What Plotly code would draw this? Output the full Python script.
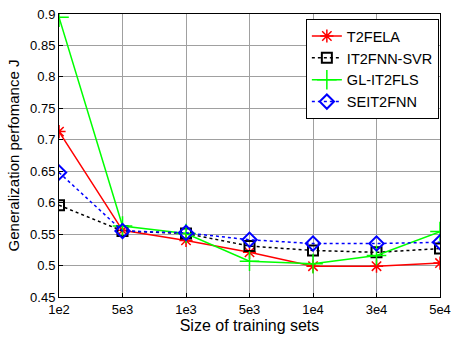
import plotly.graph_objects as go

x_labels = ["1e2", "5e3", "1e3", "5e3", "1e4", "3e4", "5e4"]
t2fela = [0.713, 0.556, 0.540, 0.521, 0.499, 0.499, 0.504]
it2fnn_svr = [0.596, 0.555, 0.551, 0.531, 0.524, 0.521, 0.527]
gl_it2fls = [0.895, 0.563, 0.551, 0.507, 0.503, 0.516, 0.554]
seit2fnn = [0.648, 0.555, 0.552, 0.541, 0.535, 0.535, 0.537]
y_ticks = [0.45, 0.5, 0.55, 0.6, 0.65, 0.7, 0.75, 0.8, 0.85, 0.9]

xs = list(range(1, len(x_labels) + 1))
FONT = "Liberation Sans, Arial, sans-serif"

fig = go.Figure()
fig.add_trace(go.Scatter(x=xs, y=t2fela, name="T2FELA", mode="lines+markers",
                         line=dict(color="#ff0000", width=1.5),
                         marker=dict(symbol="asterisk-open", size=11, color="#ff0000",
                                     line=dict(color="#ff0000", width=1.5))))
fig.add_trace(go.Scatter(x=xs, y=it2fnn_svr, name="IT2FNN-SVR", mode="lines+markers",
                         line=dict(color="#000000", width=1.5, dash="dot"),
                         marker=dict(symbol="square-open", size=10, color="#000000",
                                     line=dict(color="#000000", width=2))))
fig.add_trace(go.Scatter(x=xs, y=gl_it2fls, name="GL-IT2FLS", mode="lines+markers",
                         line=dict(color="#00ff00", width=1.5),
                         marker=dict(symbol="cross-thin-open", size=14, color="#00ff00",
                                     line=dict(color="#00ff00", width=1.5))))
fig.add_trace(go.Scatter(x=xs, y=seit2fnn, name="SEIT2FNN", mode="lines+markers",
                         line=dict(color="#0000ff", width=1.5, dash="dot"),
                         marker=dict(symbol="diamond-open", size=11, color="#0000ff",
                                     line=dict(color="#0000ff", width=2))))

axis_common = dict(showline=True, linecolor="#000000", linewidth=1, mirror=True,
                   ticks="inside", ticklen=4, tickcolor="#000000",
                   showgrid=True, gridcolor="#a0a0a0", gridwidth=1, zeroline=False,
                   tickfont=dict(family=FONT, size=13, color="#000000"))

fig.update_layout(
    width=458, height=339,
    margin=dict(l=59, r=7, t=10, b=42),
    paper_bgcolor="#ffffff", plot_bgcolor="#ffffff",
    font=dict(family=FONT, size=13, color="#000000"),
    xaxis=dict(range=[1, 7], tickmode="array", tickvals=xs, ticktext=x_labels,
               ticklabeloverflow="allow",
               title=dict(text="Size of training sets", standoff=3,
                          font=dict(family=FONT, size=16)), **axis_common),
    yaxis=dict(range=[0.45, 0.9], tickmode="array", tickvals=y_ticks,
               ticktext=[f"{v:g}" for v in y_ticks],
               title=dict(text="Generalization perfomance J", standoff=6,
                          font=dict(family=FONT, size=15)), **axis_common),
    legend=dict(x=0.997, y=0.982, xanchor="right", yanchor="top",
                bgcolor="#ffffff", bordercolor="#000000", borderwidth=1,
                font=dict(family=FONT, size=14.5), tracegroupgap=0),
    showlegend=True,
)

fig.write_html("out.html", config={"displayModeBar": False},
               post_script="document.body.style.margin='0';")
